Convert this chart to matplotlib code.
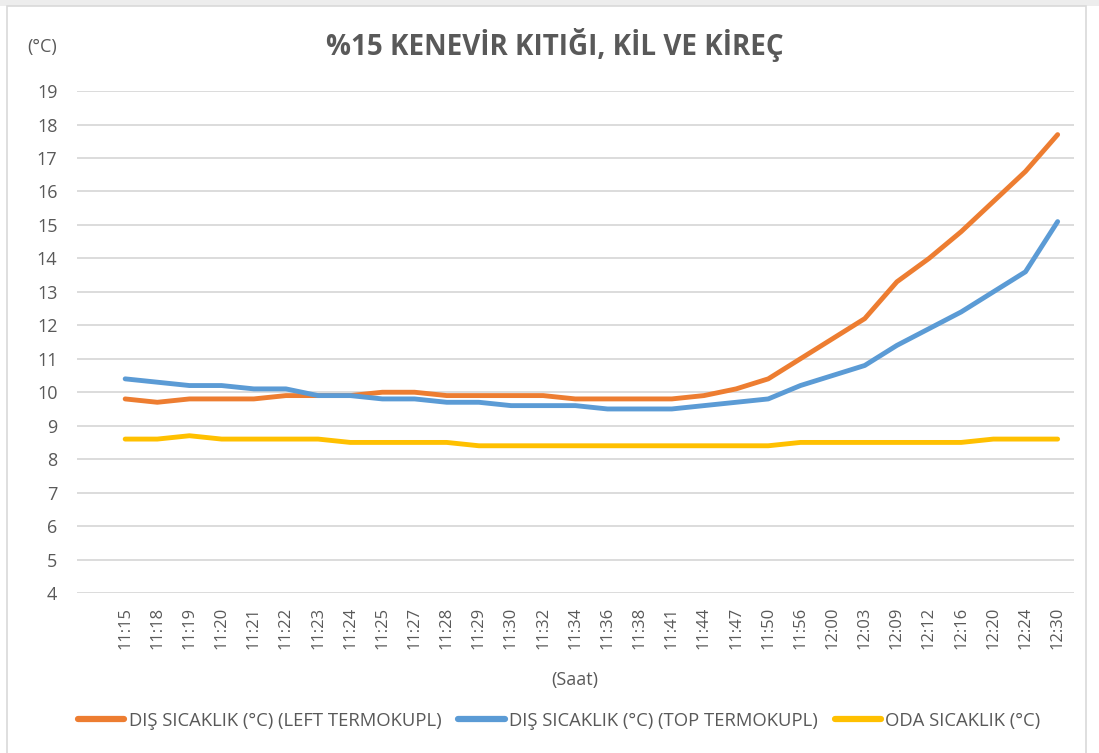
import matplotlib
matplotlib.use("Agg")
import matplotlib.pyplot as plt
from matplotlib.lines import Line2D
from matplotlib.patches import Rectangle

plt.rcParams['font.family'] = ['Liberation Sans Narrow', 'Open Sans', 'DejaVu Sans']

times = ["", "11:15", "11:18", "11:19", "11:20", "11:21", "11:22", "11:23", "11:24", "11:25",
         "11:27", "11:28", "11:29", "11:30", "11:32", "11:34", "11:36", "11:38", "11:41",
         "11:44", "11:47", "11:50", "11:56", "12:00", "12:03", "12:09", "12:12", "12:16",
         "12:20", "12:24", "12:30"]

left_tc = [None, 9.8, 9.7, 9.8, 9.8, 9.8, 9.9, 9.9, 9.9, 10.0, 10.0, 9.9, 9.9, 9.9, 9.9, 9.8,
           9.8, 9.8, 9.8, 9.9, 10.1, 10.4, 11.0, 11.6, 12.2, 13.3, 14.0, 14.8, 15.7, 16.6, 17.7]
top_tc = [None, 10.4, 10.3, 10.2, 10.2, 10.1, 10.1, 9.9, 9.9, 9.8, 9.8, 9.7, 9.7, 9.6, 9.6, 9.6,
          9.5, 9.5, 9.5, 9.6, 9.7, 9.8, 10.2, 10.5, 10.8, 11.4, 11.9, 12.4, 13.0, 13.6, 15.1]
room = [None, 8.6, 8.6, 8.7, 8.6, 8.6, 8.6, 8.6, 8.5, 8.5, 8.5, 8.5, 8.4, 8.4, 8.4, 8.4,
        8.4, 8.4, 8.4, 8.4, 8.4, 8.4, 8.5, 8.5, 8.5, 8.5, 8.5, 8.5, 8.6, 8.6, 8.6]

series_names = ["DIŞ SICAKLIK (°C) (LEFT TERMOKUPL)", "DIŞ SICAKLIK (°C) (TOP TERMOKUPL)",
                "ODA SICAKLIK (°C)"]
colors = ["#ED7D31", "#5B9BD5", "#FFC000"]
yticks = list(range(4, 20))

text_color = "#595959"

fig = plt.figure(figsize=(10.99, 7.53), dpi=100)
fig.patch.set_facecolor("white")
# light strip above the chart area and its border (left, top, right)
fig.add_artist(Rectangle((0, 0.992), 1, 0.008, transform=fig.transFigure,
                         facecolor="#EDEDED", edgecolor="none", zorder=0))
fig.add_artist(Rectangle((0.0064, -0.02), 0.982, 1.012, transform=fig.transFigure,
                         fill=False, edgecolor="#D9D9D9", linewidth=1.2, zorder=0))

ax = fig.add_axes([0.070, 0.2125, 0.907, 0.6665])
x = list(range(len(times)))
for vals, c, name in zip([left_tc, top_tc, room], colors, series_names):
    xs = [xi for xi, v in zip(x, vals) if v is not None]
    ys = [v for v in vals if v is not None]
    ax.plot(xs, ys, color=c, linewidth=3.5, solid_capstyle="round",
            solid_joinstyle="round", label=name, zorder=3)

ax.set_xlim(-0.5, len(times) - 0.5)
ax.set_ylim(4, 19)
ax.set_yticks(yticks)
ax.set_yticklabels([str(t) for t in yticks])
ax.set_xticks(x)
ax.set_xticklabels(times, rotation=90)
ax.grid(axis="y", color="#D9D9D9", linewidth=1.3, zorder=0)
ax.set_axisbelow(True)
ax.patch.set_alpha(0)
for s in ax.spines.values():
    s.set_visible(False)
ax.tick_params(axis="y", length=0, pad=14, labelsize=13, labelcolor=text_color)
ax.tick_params(axis="x", length=0, pad=10, labelsize=12, labelcolor=text_color)

fig.text(0.505, 0.94, "%15 KENEVİR KITIĞI, KİL VE KİREÇ", ha="center", va="center",
         fontsize=20, fontweight="bold", color=text_color)
fig.text(0.038, 0.937, "(°C)", ha="center", va="center", fontsize=13, color=text_color)
fig.text(0.523, 0.097, "(Saat)", ha="center", va="center", fontsize=13, color=text_color)

handles = [Line2D([0], [0], color=c, linewidth=4.5, solid_capstyle="round") for c in colors]
fig.legend(handles, series_names, loc="center", bbox_to_anchor=(0.509, 0.043), ncol=3,
           frameon=False, fontsize=13.3, labelcolor=text_color, handlelength=2.5,
           handletextpad=0.25, columnspacing=0.9)

fig.savefig("out.png", dpi=100, facecolor="white")
